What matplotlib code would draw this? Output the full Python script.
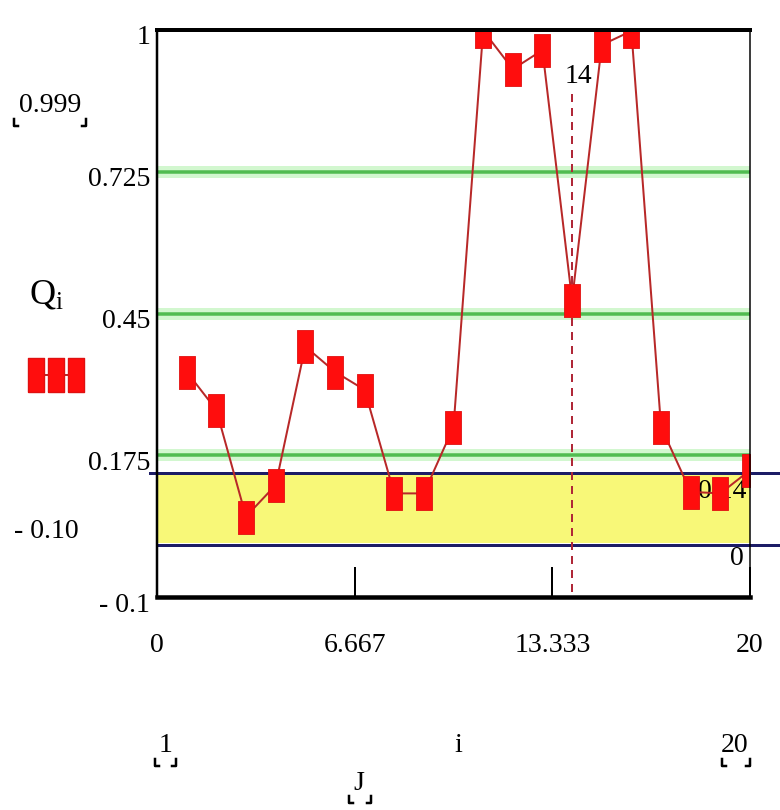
import numpy as np
import matplotlib
matplotlib.use('Agg')
import matplotlib.pyplot as plt
import matplotlib.transforms as mtransforms
from matplotlib.lines import Line2D

# figure size in pixels
W, H = 780, 810

# quality index Q_i for samples i = 1..20
i_vals = np.arange(1, 21)
Q = [0.337, 0.263, 0.056, 0.117, 0.386, 0.337, 0.302, 0.101, 0.101, 0.230,
     0.999, 0.924, 0.961, 0.476, 0.971, 0.998, 0.230, 0.104, 0.101, 0.146]

# limit levels
green_levels = [0.175, 0.45, 0.725]
blue_levels = [0.14, 0.0]
marker_i = 14

x_ticks = [0, 6.667, 13.333, 20]
x_tick_labels = ['0', '6.667', '13.333', '20']
y_ticks = [-0.1, 0.175, 0.45, 0.725, 1]
y_tick_labels = ['- 0.1', '0.175', '0.45', '0.725', '1']

FONT = ['Liberation Serif', 'DejaVu Serif']
plt.rcParams['font.family'] = FONT
plt.rcParams['mathtext.fontset'] = 'custom'
plt.rcParams['mathtext.rm'] = 'Liberation Serif'
plt.rcParams['mathtext.it'] = 'Liberation Serif'


def fx(px):
    return px / W


def fy(py):
    return 1 - py / H


def pt(px):
    return px * 0.72


# tall rectangle used as the point marker
rect = [(-0.24, -0.5), (0.24, -0.5), (0.24, 0.5), (-0.24, 0.5), (-0.24, -0.5)]

fig = plt.figure(figsize=(W / 100, H / 100), dpi=100)
ax = fig.add_axes([fx(157), fy(597), fx(750 - 157), (597 - 30) / H])
ax.set_xlim(0, 20)
ax.set_ylim(-0.1, 1)

# yellow acceptance band between the two blue limits
ax.axhspan(blue_levels[1] + 0.004, blue_levels[0] - 0.004, color='#f8f878', lw=0, zorder=1)

for g in green_levels:
    ax.axhline(g, color='#d2f7cf', lw=pt(12), zorder=2)
    ax.axhline(g, color='#50bc50', lw=pt(3.5), zorder=3)

ax.plot([-0.25, 21.1], [blue_levels[0]] * 2, color='#1c1c66', lw=pt(3),
        clip_on=False, zorder=4)
ax.plot([0, 21.1], [blue_levels[1]] * 2, color='#1c1c66', lw=pt(3),
        clip_on=False, zorder=4)

# dashed marker at i = 14
ax.plot([marker_i, marker_i], [0.875, -0.1], color='#b02838', lw=pt(2),
        dashes=(4, 3), zorder=5)
ax.text(marker_i + 0.2, 0.91, str(marker_i), fontsize=20, ha='center',
        va='center', zorder=6)

# limit values printed at the right end of the blue lines
ax.text(19.05, 0.105, '0.14', fontsize=20, ha='center', va='center', zorder=5)
ax.text(19.55, -0.025, '0', fontsize=20, ha='center', va='center', zorder=5)

# data trace
ax.plot(i_vals, Q, color='#b82828', lw=pt(2), zorder=6)
ax.plot(i_vals, Q, ls='none', marker=rect, markersize=pt(33),
        mfc='#ff0d0d', mec='#e01010', mew=0.6, zorder=7)

# frame
for side, w in (('top', 4), ('bottom', 4.5), ('left', 2.5), ('right', 1.5)):
    ax.spines[side].set_linewidth(pt(w))
    ax.spines[side].set_zorder(10)

ax.set_xticks(x_ticks)
ax.set_xticklabels(x_tick_labels)
ax.set_yticks(y_ticks)
ax.set_yticklabels(y_tick_labels)
ax.tick_params(axis='x', direction='in', length=pt(30), width=pt(2),
               pad=pt(36), labelsize=20)
ax.tick_params(axis='y', length=0, pad=pt(7), labelsize=20)
shift = mtransforms.ScaledTranslation(0, -5 / 100, fig.dpi_scale_trans)
for lab in ax.get_yticklabels():
    lab.set_transform(lab.get_transform() + shift)


def corners(x0, x1, y):
    # small Mathcad-style placeholder brackets under a label
    for x, d in ((x0, 1), (x1, -1)):
        fig.add_artist(Line2D([fx(x), fx(x), fx(x + 4 * d)],
                              [fy(y - 7), fy(y), fy(y)],
                              transform=fig.transFigure, color='black',
                              lw=pt(2.5)))


# y axis annotations
fig.text(fx(50), fy(105), '0.999', fontsize=20, ha='center', va='center')
corners(14, 86, 126)
fig.text(fx(46), fy(295), r'$\mathregular{Q_i}$', fontsize=26, ha='center', va='center')
fig.add_artist(Line2D([fx(35.5), fx(55.5), fx(75.5)], [fy(375)] * 3,
                      transform=fig.transFigure, color='#b82828', lw=pt(2),
                      marker=rect, markersize=pt(34), mfc='#ff0d0d', mec='#e01010'))
fig.text(fx(46), fy(531), '- 0.10', fontsize=20, ha='center', va='center')

# x axis annotations
fig.text(fx(166), fy(745), '1', fontsize=20, ha='center', va='center')
corners(155, 176, 766)
fig.text(fx(458), fy(745), 'i', fontsize=20, ha='center', va='center')
fig.text(fx(735), fy(745), '20', fontsize=20, ha='center', va='center')
corners(722, 750, 766)
fig.text(fx(359), fy(784), 'J', fontsize=20, ha='center', va='center')
corners(349, 371, 803)

fig.savefig('out.png', dpi=100)
